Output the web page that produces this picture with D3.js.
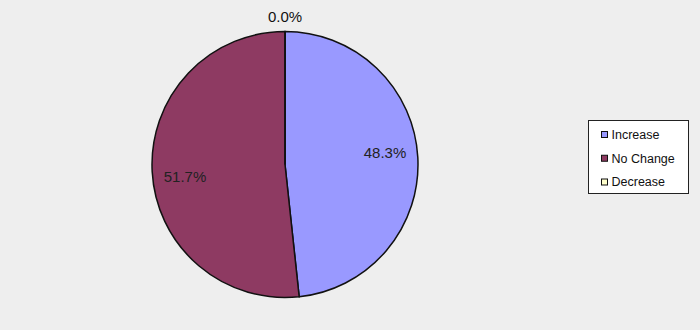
<!DOCTYPE html>
<html lang="en">
	<head>
		<meta charset="utf-8">
		<title>Pie</title>
		<script type="text/javascript" src="https://cdn.jsdelivr.net/npm/d3@7"></script>
		<style type="text/css">
			body { margin: 0; background: #eeeeee; }
			text { font-family: "Liberation Sans", Arial, sans-serif; }
		</style>
	</head>
	<body>
		<script type="text/javascript">
			//Data
			var categories = ["Increase", "No Change", "Decrease"];
			var values = [48.3, 51.7, 0.0];
			var colors = ["#9999ff", "#8e3a62", "#ffffcc"];

			var w = 700, h = 330;
			var cx = 285, cy = 164.5, r = 133;

			var svg = d3.select("body").append("svg")
				.attr("width", w)
				.attr("height", h);

			svg.append("rect").attr("width", w).attr("height", h).attr("fill", "#eeeeee");

			var pie = d3.pie().sort(null).value(function(d) { return d; });
			var arcs = pie(values);
			var arc = d3.arc().innerRadius(0).outerRadius(r);

			//label placement: inside labels nudged a few degrees anticlockwise
			var labelPos = function(d) {
				var a, rr;
				if (d.value === 0) {
					a = d.startAngle;
					rr = r + 15;
				} else {
					a = (d.startAngle + d.endAngle) / 2 - 3.7 * Math.PI / 180;
					rr = r * 0.757;
				}
				return [rr * Math.sin(a), -rr * Math.cos(a)];
			};

			var g = svg.append("g").attr("transform", "translate(" + cx + "," + cy + ")");

			g.selectAll("path")
				.data(arcs)
				.enter()
				.append("path")
				.attr("d", arc)
				.attr("fill", function(d, i) { return colors[i]; })
				.attr("stroke", "#111")
				.attr("stroke-width", 1.5);

			g.selectAll("text.lbl")
				.data(arcs)
				.enter()
				.append("text")
				.attr("class", "lbl")
				.attr("transform", function(d) { return "translate(" + labelPos(d) + ")"; })
				.attr("text-anchor", "middle")
				.attr("dy", "0.35em")
				.attr("font-size", 15)
				.attr("fill", function(d) { return d.value === 0 ? "#111" : "#222"; })
				.text(function(d) { return d.value.toFixed(1) + "%"; });

			//Legend
			var lg = svg.append("g").attr("transform", "translate(588.5,120.5)");
			lg.append("rect")
				.attr("width", 100).attr("height", 73)
				.attr("fill", "#fff").attr("stroke", "#222");

			var y = d3.scalePoint().domain(categories).range([14, 61.5]);

			var item = lg.selectAll("g.item")
				.data(categories)
				.enter()
				.append("g")
				.attr("class", "item")
				.attr("transform", function(d) { return "translate(0," + y(d) + ")"; });

			item.append("rect")
				.attr("x", 13).attr("y", -3)
				.attr("width", 6).attr("height", 6)
				.attr("fill", function(d, i) { return colors[i]; })
				.attr("stroke", "#111");

			item.append("text")
				.attr("x", 23).attr("dy", "0.35em")
				.attr("font-size", 12.5)
				.attr("fill", "#111")
				.text(function(d) { return d; });
		</script>
	</body>
</html>
